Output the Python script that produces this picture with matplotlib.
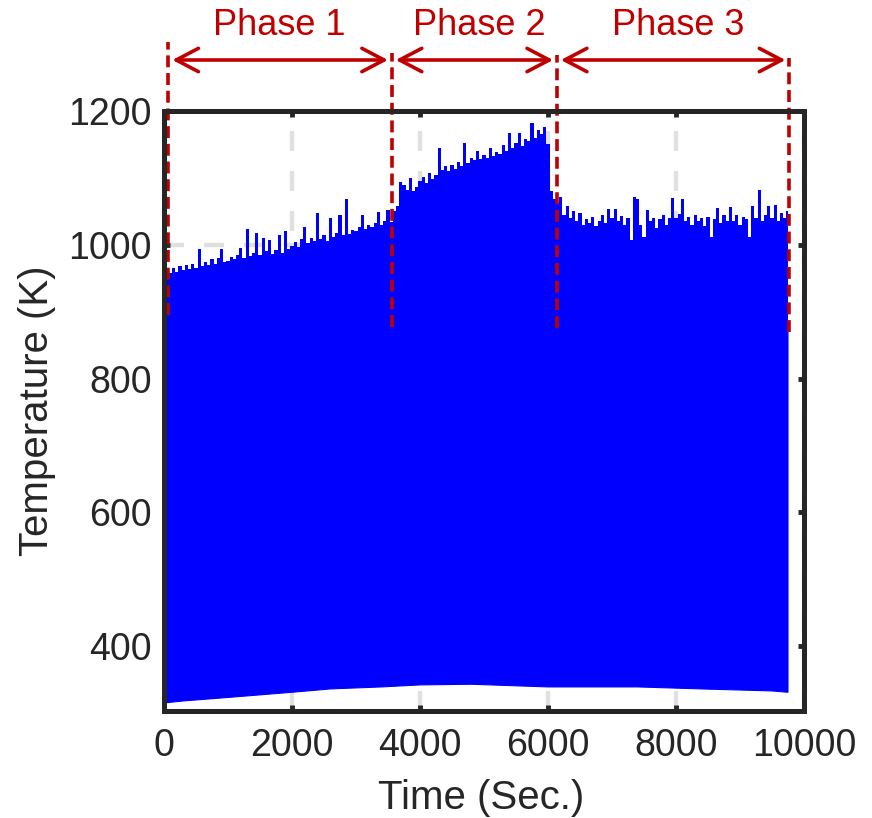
import numpy as np
import matplotlib
matplotlib.use("Agg")
import matplotlib.pyplot as plt

# ---------------- data ----------------
STEP = 50  # seconds between upper-envelope samples
upper_p1a = [955, 962, 958, 966, 960, 968, 963, 970, 964, 972, 966, 993, 968, 975, 970, 978, 972, 980, 993, 975]
upper_p1b = [976, 982, 978, 985, 995, 980, 1024, 983, 988, 1018, 985, 1010, 990, 1007, 986, 992, 1015, 988, 1020, 993]
upper_p1c = [998, 1004, 996, 1008, 1027, 1002, 1010, 1005, 1048, 1008, 1014, 1006, 1040, 1012, 1018, 1044, 1015, 1069, 1016, 1022]
upper_p1d = [1020, 1026, 1044, 1024, 1030, 1027, 1033, 1049, 1030, 1036, 1052, 1034]
upper_p2a = [1050, 1058, 1094, 1090, 1082, 1100, 1080, 1086]
upper_p2b = [1095, 1101, 1093, 1107, 1098, 1104, 1145, 1112, 1118, 1110, 1120, 1114, 1124, 1118, 1152, 1122, 1130, 1126, 1140, 1128]
upper_p2c = [1134, 1130, 1145, 1132, 1138, 1135, 1149, 1140, 1167, 1145, 1152, 1167, 1148, 1158, 1155, 1182, 1160, 1172, 1165, 1176]
upper_p2d = [1150, 1080, 1068]
upper_p3a = [1062, 1072, 1045, 1058, 1040, 1050, 1035, 1047, 1030, 1038, 1033, 1042, 1028, 1036, 1045, 1032, 1053]
upper_p3b = [1040, 1053, 1035, 1043, 1030, 1040, 1007, 1071, 1068, 1030, 1012, 1052, 1035, 1040, 1025, 1038, 1044, 1030, 1040, 1070]
upper_p3c = [1040, 1046, 1068, 1035, 1042, 1030, 1045, 1036, 1040, 1028, 1042, 1012, 1038, 1055, 1032, 1044, 1036, 1057, 1035, 1045]
upper_p3d = [1030, 1042, 1038, 1012, 1058, 1040, 1082, 1035, 1045, 1058, 1040, 1060, 1035, 1048, 1040, 1050]

upper = np.array(upper_p1a + upper_p1b + upper_p1c + upper_p1d + upper_p2a + upper_p2b +
                 upper_p2c + upper_p2d + upper_p3a + upper_p3b + upper_p3c + upper_p3d, dtype=float)
time_up = np.arange(len(upper)) * STEP

time_low = [0, 300, 1100, 2000, 2600, 3400, 4000, 4800, 6000, 7400, 8400, 9500, 9750]
lower = [315, 318, 324, 331, 336, 339, 342, 343, 339, 339, 336, 333, 331]

phase_bounds = [70, 3560, 6140, 9770]
phase_labels = ["Phase 1", "Phase 2", "Phase 3"]
phase_label_x = [1800, 4920, 8030]

xticks = [0, 2000, 4000, 6000, 8000, 10000]
yticks = [400, 600, 800, 1000, 1200]

# ---------------- style ----------------
plt.rcParams['font.family'] = ['Liberation Sans', 'DejaVu Sans']
TXT = '#262626'
RED = '#c00000'
BLUE = '#0000ff'

fig = plt.figure(figsize=(8.72, 8.18), dpi=100)
ax = fig.add_axes([164 / 872, 107 / 818, 640 / 872, 600 / 818])

YMIN, YMAX = 303, 1200
ax.set_xlim(0, 10000)
ax.set_ylim(YMIN, YMAX)

# signal envelope: lower part as polygon, upper (spiky) part as stairs
MID = 880
edges = np.concatenate([[0], time_up[1:] - STEP / 2, [time_up[-1]]])
ax.stairs(upper, edges, baseline=MID - 20, fill=True, color=BLUE, lw=0, zorder=2)
ax.fill(np.concatenate([time_low, [time_low[-1], time_low[0]]]),
        np.concatenate([lower, [MID, MID]]), color=BLUE, lw=0.8, zorder=2)

# grid
ax.set_axisbelow(True)
ax.grid(True, color='#e0e0e0', lw=3.2, linestyle=(0, (4.5, 4.5)), zorder=0)

# ticks / spines
ax.set_xticks(xticks)
ax.set_yticks(yticks)
ax.tick_params(axis='both', which='both', direction='in', length=4.5, width=3.5,
               color=TXT, labelcolor=TXT, labelsize=27, top=True, right=True)
ax.tick_params(axis='x', pad=12)
ax.tick_params(axis='y', pad=9)
for s in ax.spines.values():
    s.set_linewidth(3.6)
    s.set_color(TXT)
    s.set_zorder(5)

ax.set_xlabel('Time (Sec.)', fontsize=29, color=TXT, va='center')
ax.xaxis.set_label_coords(0.496, -0.145)
ax.set_ylabel('Temperature (K)', fontsize=29, color=TXT, va='center', ha='center')
ax.yaxis.set_label_coords(-0.198, 0.5)

# phase annotations
def fy(frac):
    return YMIN + frac * (YMAX - YMIN)

tops = [1.115, 1.097, 1.093, 1.088]
bots = [0.66, 0.64, 0.638, 0.632]
for xb, t, b in zip(phase_bounds, tops, bots):
    ax.plot([xb, xb], [fy(b), fy(t)], color=RED, lw=2.6,
            linestyle=(0, (3.3, 1.6)), clip_on=False, zorder=4)

arrow_y = fy(1.085)
gap = 60
for i in range(3):
    ax.annotate('', xy=(phase_bounds[i + 1] - gap, arrow_y), xytext=(phase_bounds[i] + gap, arrow_y),
                xycoords='data', textcoords='data', annotation_clip=False,
                arrowprops=dict(arrowstyle='<->,head_length=0.8,head_width=0.42',
                                color=RED, lw=2.6, shrinkA=0, shrinkB=0, mutation_scale=20))
    ax.text(phase_label_x[i], fy(1.127), phase_labels[i], color=RED, fontsize=26,
            ha='center', va='baseline', clip_on=False)

fig.savefig('out.png', dpi=100)
